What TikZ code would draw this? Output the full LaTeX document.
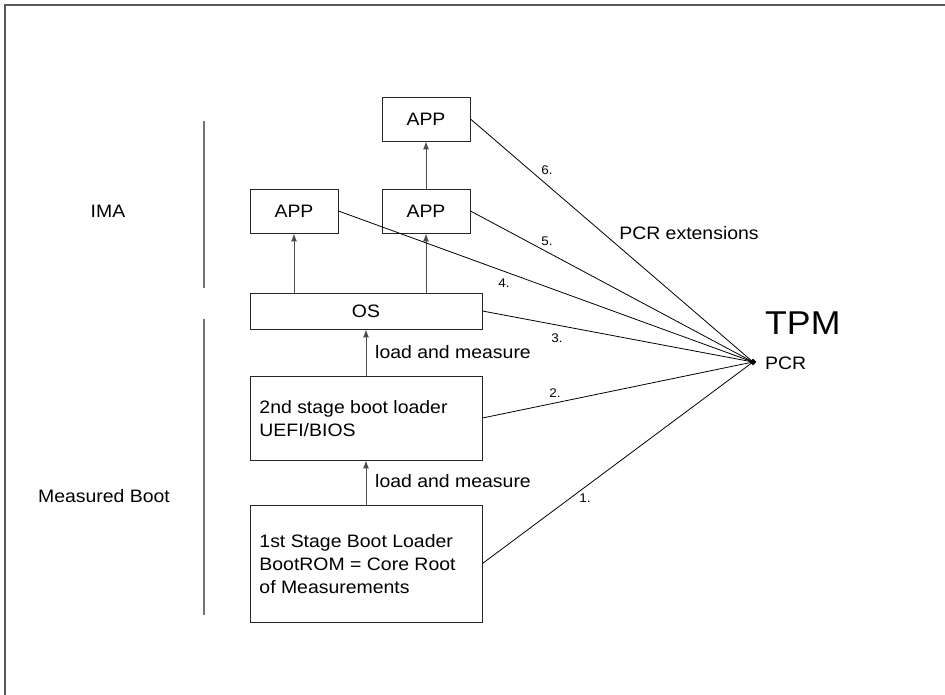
\documentclass[tikz,border=0pt]{standalone}
\usepackage{fontspec}
\setmainfont[FakeStretch=1.08]{Liberation Sans}
\usetikzlibrary{arrows.meta,shapes.geometric}
\begin{document}
\begin{tikzpicture}[x=1pt,y=-1pt,
  box/.style={draw=black!85,line width=0.9pt,inner sep=0pt,font=\fontsize{18}{23}\selectfont},
  up/.style={draw=black!70,line width=1pt,-{Latex[length=8pt,width=6pt]}},
  link/.style={draw=black,line width=0.8pt},
  num/.style={font=\fontsize{12.5}{14}\selectfont,inner sep=0pt},
  lbl/.style={font=\fontsize{18}{22}\selectfont,inner sep=0pt},
  sep/.style={draw=black!55,line width=1.3pt},
  frame/.style={draw=black!65,line width=1.5pt}]
\useasboundingbox (0,0) rectangle (945,695);
\fill[white] (0,0) rectangle (945,695);
% frame (top and left edges)
\coordinate (f0) at (5,5);
\coordinate (f1) at (945,5);
\coordinate (f2) at (5,695);
\draw[frame] (f1) -- (f0) -- (f2);
% separator lines
\coordinate (s1a) at (204,121);
\coordinate (s1b) at (204,288);
\coordinate (s2a) at (204,319);
\coordinate (s2b) at (204,615);
\draw[sep] (s1a) -- (s1b);
\draw[sep] (s2a) -- (s2b);
% boxes
\node[box,minimum width=88pt,minimum height=44pt] (topapp) at (426,119) {APP};
\node[box,minimum width=88pt,minimum height=44pt] (app1) at (294,211) {APP};
\node[box,minimum width=88pt,minimum height=44pt] (app2) at (426,211) {APP};
\node[box,minimum width=232pt,minimum height=36pt] (os) at (366,311) {OS};
\node[box,minimum width=232pt,minimum height=84pt] (boot2) at (366,418) {};
\node[box,minimum width=232pt,minimum height=117pt] (boot1) at (366,563.5) {};
\node[box,draw=none,anchor=west,align=left] (t2) at (259,419) {2nd stage boot loader\\UEFI/BIOS};
\node[box,draw=none,anchor=west,align=left] (t1) at (259,564) {1st Stage Boot Loader\\BootROM = Core Root\\of Measurements};
% PCR point
\node[diamond,fill=black,inner sep=0pt,minimum size=7pt] (pcr) at (753,362) {};
\node[lbl,anchor=west] (pcrt) at (765,363) {PCR};
\node[anchor=west,inner sep=0pt,font=\fontsize{33}{36}\selectfont] (tpm) at (765,323.5) {TPM};
% arrows
\draw[up] (app2.north) -- (topapp.south);
\draw[up] (app1.south |- os.north) -- (app1.south);
\draw[up] (app2.south |- os.north) -- (app2.south);
\draw[up] (boot2.north) -- (os.south);
\draw[up] (boot1.north) -- (boot2.south);
\node[lbl,anchor=west] (lm1) at (375,352) {load and measure};
\node[lbl,anchor=west] (lm2) at (375,481) {load and measure};
% links to PCR
\draw[link] (topapp.east) -- (pcr.center);
\draw[link] (app1.east) -- (pcr.center);
\draw[link] (app2.east) -- (pcr.center);
\draw[link] (os.east) -- (pcr.center);
\draw[link] (boot2.east) -- (pcr.center);
\draw[link] (boot1.east) -- (pcr.center);
\node[num] (n6) at (547,170) {6.};
\node[num] (n5) at (547,241) {5.};
\node[num] (n4) at (504,283) {4.};
\node[num] (n3) at (557,338) {3.};
\node[num] (n2) at (555,393) {2.};
\node[num] (n1) at (585,498) {1.};
\node[lbl] (ext) at (689,233) {PCR extensions};
% side labels
\node[lbl] (ima) at (108,211) {IMA};
\node[lbl] (mb) at (104,496) {Measured Boot};
\end{tikzpicture}
\end{document}
